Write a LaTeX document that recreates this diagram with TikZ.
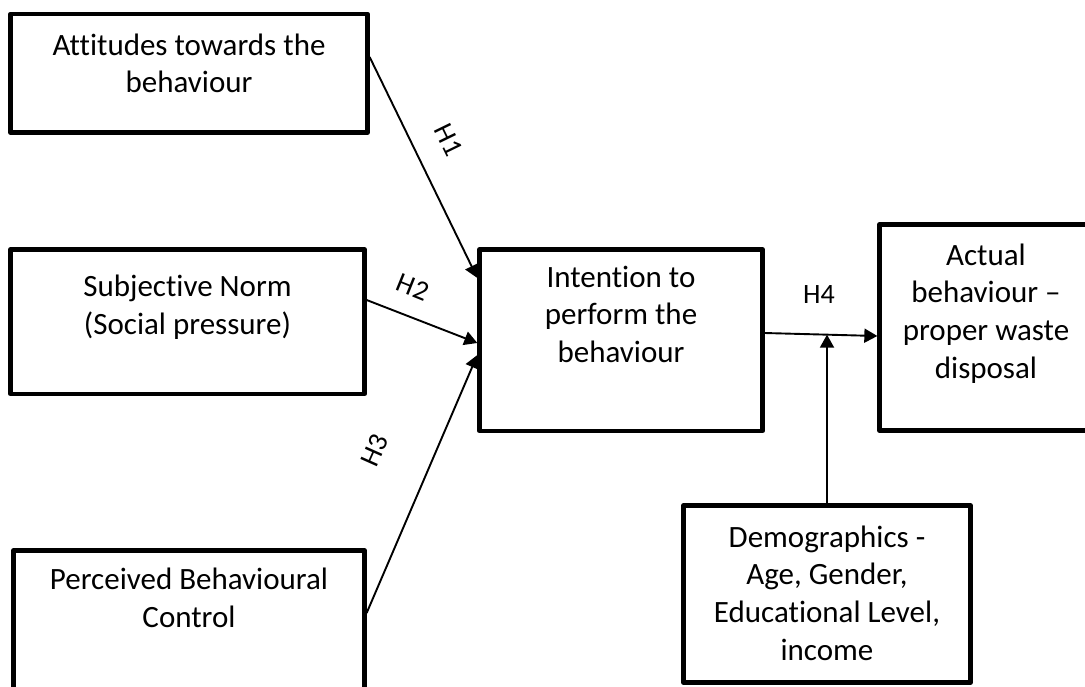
\documentclass[tikz,border=0pt]{standalone}
\usepackage{fontspec}
\setmainfont{Carlito}[Ligatures={TeX,NoCommon}]
\usetikzlibrary{arrows.meta}

% Top-aligned, centred multi-line text of a fixed-size box:
% #1 width, #2 height, #3 depth of the first baseline below the top, #4 lines
\newcommand{\boxtext}[5][0pt]{%
  \parbox[c][#3][t]{#2}{\centering\rightskip=#1 plus 1fil
    \fontsize{31}{37.8}\selectfont\rule{0pt}{#4}#5}}

\tikzset{
  box/.style={draw, line width=4.3pt, line join=round, inner sep=0pt},
  link/.style={line width=1.9pt, -{Triangle[length=13pt,width=14pt]}},
  hyp/.style={font=\fontsize{28}{33}\selectfont, inner sep=0pt}
}

\begin{document}
\begin{tikzpicture}[x=1pt,y=-1pt]
  \useasboundingbox (0,0) rectangle (1085,686);
  \clip (0,0) rectangle (1085,686);

  % the three antecedents on the left
  \node[box] (att) at (189,73.25)
    {\boxtext{357pt}{118.5pt}{41pt}{Attitudes towards the\\behaviour}};
  \node[box] (sub) at (187.5,321.75)
    {\boxtext{354pt}{144.5pt}{47pt}{Subjective Norm\\(Social pressure)}};
  \node[box] (pbc) at (189,635.25)
    {\boxtext{351pt}{169.5pt}{39pt}{Perceived Behavioural\\Control}};

  % intention, behaviour and the moderating demographics
  \node[box] (int) at (621,340.25)
    {\boxtext{283pt}{181.5pt}{37.5pt}{Intention to\\perform the\\behaviour}};
  \node[box] (act) at (1001.5,327.5)
    {\boxtext[31pt]{244pt}{206pt}{40.5pt}{Actual\\behaviour –\\proper waste\\disposal}};
  \node[box] (dem) at (827,594)
    {\boxtext{287pt}{177pt}{41.5pt}{Demographics -\\Age, Gender,\\Educational Level,\\income}};

  % hypothesised paths
  \draw[link] ([yshift=-45.15pt]att.north east) -- ([yshift=-30.65pt]int.north west);
  \draw[link] ([yshift=-52.65pt]sub.north east) -- ([yshift=-2.75pt]int.west);
  \draw[link] ([yshift=-64.65pt]pbc.north east) -- ([yshift=-14.75pt]int.west);
  \draw[link] ([yshift=7.25pt]int.east) -- coordinate[pos=0.549] (mod) ([yshift=-8.5pt]act.west);
  \draw[link] (dem.north) -- (dem.north |- mod);

  % hypothesis labels
  \node[hyp, rotate=-64] (h1) at (449,140) {H1};
  \node[hyp, rotate=-22] (h2) at (413,287) {H2};
  \node[hyp, rotate=66]  (h3) at (375,450) {H3};
  \node[hyp]             (h4) at (819,295) {H4};
\end{tikzpicture}
\end{document}
